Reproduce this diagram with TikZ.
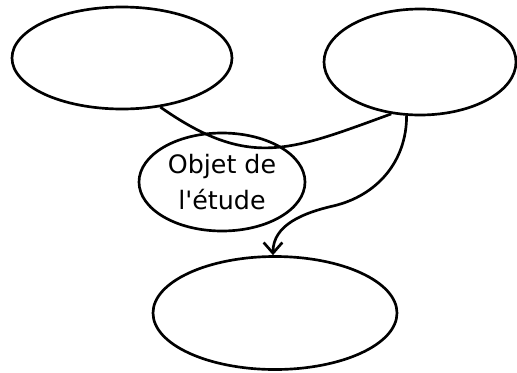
\documentclass[tikz,border=0pt]{standalone}
\usepackage{fontspec}
\newfontfamily\objfont[Ligatures=TeXOff]{DejaVu Sans}
\usetikzlibrary{shapes.geometric, arrows.meta}

\begin{document}
\begin{tikzpicture}[x=0.75pt, y=-0.75pt,
    bulle/.style={ellipse, draw, line width=\w, inner sep=0pt},
    lien/.style={line width=\w}]
    \def\w{2pt}
    \useasboundingbox (0,0) rectangle (517,372);

    \node[bulle, minimum width=165pt, minimum height=76.5pt] (gauche) at (122,58) {};
    \node[bulle, minimum width=144pt, minimum height=79.5pt] (droite) at (420,62) {};
    \node[bulle, minimum width=124.5pt, minimum height=73.5pt, align=center,
          font=\objfont\fontsize{19}{26.5}\selectfont] (objet) at (222,182) {Objet de\\l'étude};
    \node[bulle, minimum width=183pt, minimum height=84.75pt] (bas) at (275,313) {};

    % lien entre les deux bulles du haut
    \draw[lien] (gauche.308) to[out=-35, in=200, looseness=1.2] (droite.241);

    % fleche vers la bulle du bas
    \coordinate (coude) at (333,206);
    \draw[lien, -{Straight Barb[length=8pt, width=14pt]}] (droite.256) to[out=-90, in=13] (coude) to[out=193, in=90] (bas.92);
\end{tikzpicture}
\end{document}
